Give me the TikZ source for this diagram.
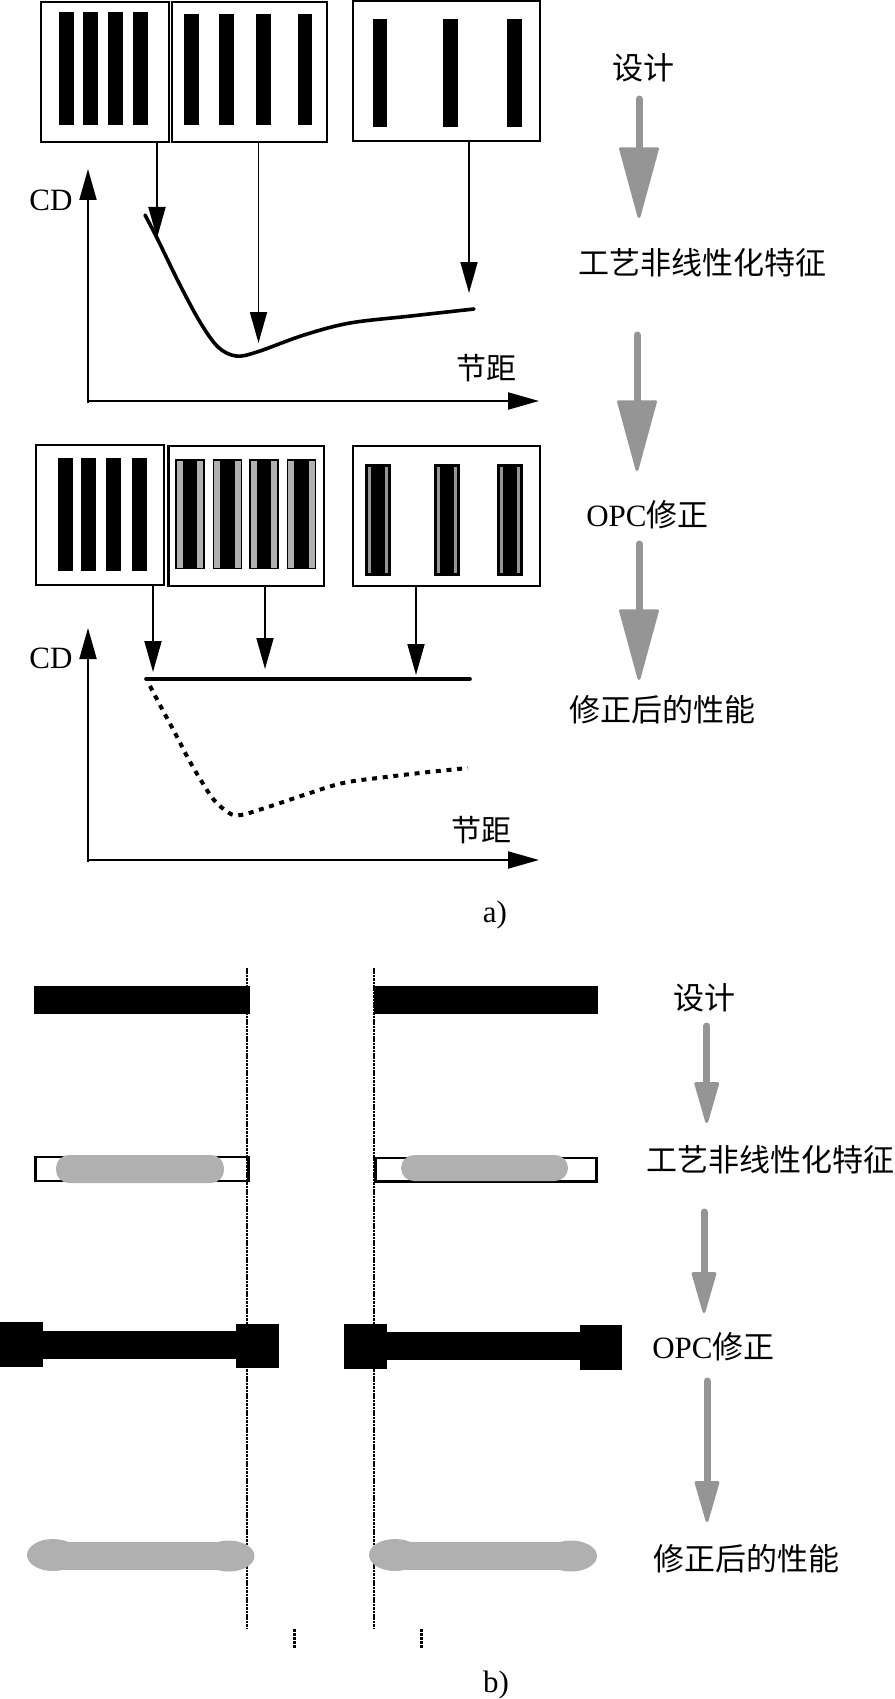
\documentclass[tikz,border=0pt]{standalone}
\usepackage{fontspec}
\setmainfont{Liberation Serif}
\newfontfamily\cjk{Noto Sans CJK SC}
\usetikzlibrary{arrows.meta}
\definecolor{stripegray}{HTML}{B0B0B0}
\definecolor{arrowgray}{HTML}{959595}
\tikzset{
  panel/.style={draw=black,line width=2.2pt,fill=white,inner sep=0pt,rectangle},
  lbl/.style={inner sep=0pt,font=\fontsize{31}{31}\selectfont\cjk,text=black},
  latinlbl/.style={inner sep=0pt,font=\fontsize{31}{31}\selectfont,text=black},
  thinarrow/.style={line width=1.8pt,-{Triangle[length=31pt,width=17pt]}},
  axisarrow/.style={line width=2pt,-{Triangle[length=31pt,width=17pt]}},
  grayarrow/.style={draw=arrowgray,line width=7pt,line cap=round},
  bighead/.style={grayarrow,-{Triangle[length=75pt,width=40pt,line width=3pt,round]}},
  smallhead/.style={grayarrow,-{Triangle[length=45pt,width=25pt,line width=3pt,round]}},
  guide/.style={line width=1.9pt,dash pattern=on 2.5pt off .9pt},
  tick/.style={line width=2.5pt,dash pattern=on 3pt off 1pt},
  curve/.style={line width=3.6pt,line cap=round,line join=round},
  dotcurve/.style={line width=4pt,dash pattern=on 5pt off 5.7pt},
}
\begin{document}
\begin{tikzpicture}[x=1pt,y=-1pt]
\useasboundingbox (0,0) rectangle (894,1699);
% ---------- a) upper panels
\node[panel,minimum width=128pt,minimum height=140pt] (p1) at (105,72) {};
\node[panel,minimum width=155pt,minimum height=140pt] (p2) at (249.5,72) {};
\node[panel,minimum width=187pt,minimum height=140pt] (p3) at (446.5,71) {};
\foreach \a in {59,83,108,133} \fill (\a,12) rectangle (\a+15,125);
\foreach \a in {184,219,256,297.5} \fill (\a,14) rectangle (\a+14.5,125);
\foreach \a in {372.5,443,507} \fill (\a,19) rectangle (\a+14.5,127);
% axes upper
\coordinate (o1) at (88,403);
\coordinate (yt1) at (88,169);
\coordinate (ox1) at (87,401);
\coordinate (xt1) at (539,401);
\draw[axisarrow] (o1) -- (yt1);
\draw[axisarrow] (ox1) -- (xt1);
\node[latinlbl] (cd1) at (51,200) {CD};
\node[lbl,font=\fontsize{30}{30}\selectfont\cjk] (pitch1) at (486,368) {节距};
\draw[curve] plot[smooth,tension=.55] coordinates {(145,215) (157,238) (179,283) (200,322) (218,347) (236,356) (257,352) (304,335) (350,323) (411,316) (474,309)};
\coordinate (t1) at (157,238);
\coordinate (t2) at (258.5,343);
\coordinate (t3) at (469,293);
\draw[thinarrow] (t1 |- p1.south) -- (t1);
\draw[thinarrow] (t2 |- p2.south) -- (t2);
\draw[thinarrow] (t3 |- p3.south) -- (t3);
% ---------- a) lower panels
\node[panel,minimum width=128pt,minimum height=140pt] (q1) at (100,515) {};
\node[panel,minimum width=155.5pt,minimum height=140pt] (q2) at (246.25,516) {};
\node[panel,minimum width=187pt,minimum height=140pt] (q3) at (446.5,516) {};
\foreach \a in {58,81,106,132} \fill (\a,458) rectangle (\a+15,571);
\foreach \a in {175,212.5,249,286.5} {
  \fill (\a,459) rectangle (\a+29.5,569);
  \fill[stripegray] (\a+1.5,461) rectangle (\a+7.5,567.5);
  \fill[stripegray] (\a+22,461) rectangle (\a+28,567.5);
}
\foreach \a in {365,434,497} {
  \fill (\a,464) rectangle (\a+26,576);
  \fill[arrowgray] (\a+2.5,467) rectangle (\a+5.5,573);
  \fill[arrowgray] (\a+20,467) rectangle (\a+23,573);
}
\coordinate (o2) at (88,862);
\coordinate (yt2) at (88,628);
\coordinate (ox2) at (87,860);
\coordinate (xt2) at (539,860);
\draw[axisarrow] (o2) -- (yt2);
\draw[axisarrow] (ox2) -- (xt2);
\node[latinlbl] (cd2) at (51,658) {CD};
\node[lbl,font=\fontsize{30}{30}\selectfont\cjk] (pitch2) at (481,830) {节距};
\coordinate (f1) at (146,679);
\coordinate (f2) at (470,679);
\draw[curve] (f1) -- (f2);
\draw[dotcurve] plot[smooth,tension=.55] coordinates {(150,686) (161,707) (175,733) (189,760) (202,782) (214,800) (229,813) (241,815) (268,807) (304,795) (343,783) (386,777) (429,772) (468,768)};
\coordinate (u1) at (153,672);
\coordinate (u2) at (265,669);
\coordinate (u3) at (416,675);
\draw[thinarrow] (u1 |- q1.south) -- (u1);
\draw[thinarrow] (u2 |- q2.south) -- (u2);
\draw[thinarrow] (u3 |- q3.south) -- (u3);
\node[latinlbl] (capa) at (495,915) {a)};
% ---------- a) right column
\node[lbl] (a1) at (643,68) {设计};
\node[lbl] (a2) at (702.5,263) {工艺非线性化特征};
\node[lbl] (a3) at (647.5,515) {{\rmfamily OPC}修正};
\node[lbl] (a4) at (662.5,710) {修正后的性能};
\coordinate (as1) at (639,99); \coordinate (ae1) at (639,218);
\coordinate (as2) at (637,335); \coordinate (ae2) at (637,471);
\coordinate (as3) at (639,544); \coordinate (ae3) at (639,680);
\draw[bighead] (as1) -- (ae1);
\draw[bighead] (as2) -- (ae2);
\draw[bighead] (as3) -- (ae3);
% ---------- b) section
\coordinate (g1t) at (247,968); \coordinate (g1b) at (247,1628);
\coordinate (g2t) at (374,968); \coordinate (g2b) at (374,1628);
% rows
\fill (34,986) rectangle (250,1014);
\fill (373.5,986) rectangle (597.5,1014);
\draw[line width=2.2pt] (35.5,1157) rectangle (248.5,1181);
\draw[line width=2.2pt] (375.5,1158) rectangle (596.5,1181.5);
\draw[guide] (g1t) -- (g1b);
\draw[guide] (g2t) -- (g2b);
\fill[stripegray,rounded corners=13pt] (56,1155) rectangle (224,1183);
\fill[stripegray,rounded corners=13pt] (401,1155) rectangle (568,1181);
% OPC shapes
\fill (0,1322) rectangle (43,1367);
\fill (43,1331) rectangle (236,1359);
\fill (236,1324) rectangle (279,1368);
\fill (344,1324) rectangle (386.5,1369);
\fill (386.5,1332) rectangle (580,1360);
\fill (580,1325) rectangle (622,1370);
% printed result
\fill[stripegray] (53,1542) rectangle (228.5,1570);
\fill[stripegray] (53,1555) ellipse [x radius=26,y radius=16];
\fill[stripegray] (228.5,1556) ellipse [x radius=26,y radius=15.5];
\fill[stripegray] (395,1542) rectangle (571,1570);
\fill[stripegray] (395,1555) ellipse [x radius=26,y radius=16];
\fill[stripegray] (571,1556) ellipse [x radius=26,y radius=15.5];
% ticks
\coordinate (k1t) at (294.7,1629); \coordinate (k1b) at (294.7,1649);
\coordinate (k2t) at (421.6,1629); \coordinate (k2b) at (421.6,1649);
\draw[tick] (k1t) -- (k1b);
\draw[tick] (k2t) -- (k2b);
\node[latinlbl] (capb) at (496,1685) {b)};
% right column b
\node[lbl] (b1) at (704,998) {设计};
\node[lbl] (b2) at (770,1160) {工艺非线性化特征};
\node[lbl] (b3) at (713.5,1347) {{\rmfamily OPC}修正};
\node[lbl] (b4) at (746.5,1559) {修正后的性能};
\coordinate (bs1) at (706.7,1026); \coordinate (be1) at (706.7,1123);
\coordinate (bs2) at (704,1212); \coordinate (be2) at (704,1313);
\coordinate (bs3) at (707,1381); \coordinate (be3) at (707,1522);
\draw[smallhead] (bs1) -- (be1);
\draw[smallhead] (bs2) -- (be2);
\draw[smallhead] (bs3) -- (be3);
\end{tikzpicture}
\end{document}
